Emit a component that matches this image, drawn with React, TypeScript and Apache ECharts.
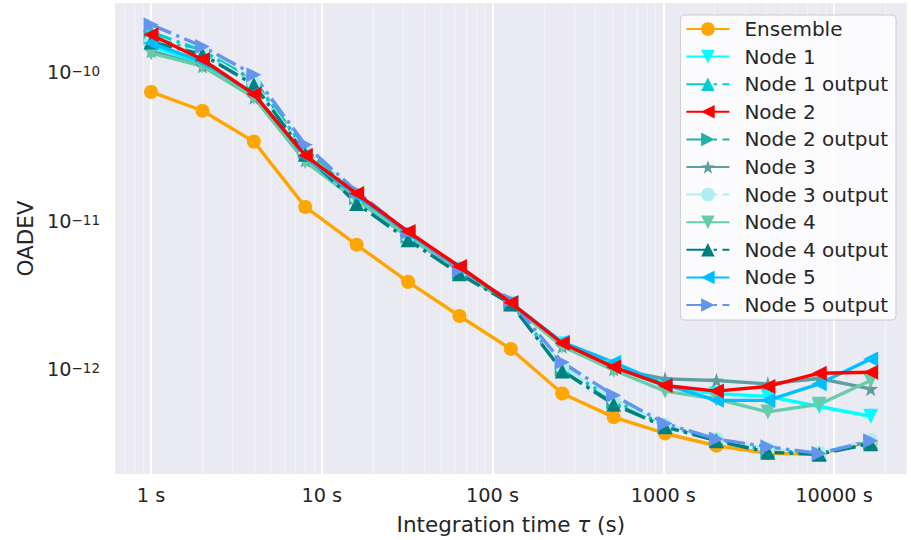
import React, { useEffect, useRef } from "react";
import * as echarts from "echarts";

// Integration times (s)
const tau = [1, 2, 4, 8, 16, 32, 64, 128, 256, 512, 1024, 2048, 4096, 8192, 16384];

// OADEV values
const ensemble = [7.5e-11, 5.6e-11, 3.47e-11, 1.26e-11, 7.0e-12, 3.94e-12, 2.32e-12, 1.39e-12, 6.98e-13, 4.83e-13, 3.75e-13, 3.1e-13, 2.76e-13, 2.73e-13, 3.3e-13];
const node1 = [1.54e-10, 1.15e-10, 7.0e-11, 2.65e-11, 1.45e-11, 8.2e-12, 4.8e-12, 2.8e-12, 1.5e-12, 1.05e-12, 7.8e-13, 6.94e-13, 6.67e-13, 5.7e-13, 4.9e-13];
const node1Output = [1.9e-10, 1.42e-10, 9.0e-11, 3.1e-11, 1.5e-11, 8.2e-12, 4.7e-12, 2.85e-12, 1.05e-12, 6.3e-13, 4.25e-13, 3.4e-13, 2.9e-13, 2.75e-13, 3.3e-13];
const node2 = [1.82e-10, 1.24e-10, 7.24e-11, 2.8e-11, 1.55e-11, 8.6e-12, 5.0e-12, 2.85e-12, 1.52e-12, 1.05e-12, 7.9e-13, 7.24e-13, 7.78e-13, 9.55e-13, 9.7e-13];
const node2Output = [1.75e-10, 1.38e-10, 8.8e-11, 3.0e-11, 1.45e-11, 8.0e-12, 4.6e-12, 2.82e-12, 1.02e-12, 6.1e-13, 4.2e-13, 3.38e-13, 2.85e-13, 2.74e-13, 3.25e-13];
const node3 = [1.42e-10, 1.12e-10, 6.9e-11, 2.6e-11, 1.42e-11, 8.0e-12, 4.7e-12, 2.8e-12, 1.45e-12, 1.02e-12, 8.75e-13, 8.53e-13, 8.1e-13, 8.8e-13, 7.5e-13];
const node3Output = [1.65e-10, 1.38e-10, 8.6e-11, 2.95e-11, 1.45e-11, 8.0e-12, 4.6e-12, 2.85e-12, 1.05e-12, 6.4e-13, 4.3e-13, 3.45e-13, 2.95e-13, 2.78e-13, 3.4e-13];
const node4 = [1.37e-10, 1.12e-10, 6.9e-11, 2.54e-11, 1.4e-11, 7.9e-12, 4.65e-12, 2.78e-12, 1.45e-12, 1.0e-12, 7.24e-13, 6.4e-13, 5.24e-13, 5.9e-13, 8.53e-13];
const node4Output = [1.63e-10, 1.34e-10, 8.4e-11, 2.85e-11, 1.33e-11, 7.56e-12, 4.46e-12, 2.8e-12, 9.9e-13, 5.9e-13, 4.16e-13, 3.35e-13, 2.8e-13, 2.72e-13, 3.2e-13];
const node5 = [1.6e-10, 1.2e-10, 7.3e-11, 2.75e-11, 1.5e-11, 8.4e-12, 4.9e-12, 2.85e-12, 1.55e-12, 1.13e-12, 8.0e-13, 6.27e-13, 6.27e-13, 8.1e-13, 1.19e-12];
const node5Output = [2.13e-10, 1.52e-10, 9.8e-11, 3.3e-11, 1.6e-11, 8.5e-12, 4.75e-12, 2.95e-12, 1.13e-12, 6.78e-13, 4.38e-13, 3.44e-13, 3.05e-13, 2.75e-13, 3.35e-13];

// Tick labels
const xTickValues = [1, 10, 100, 1000, 10000];
const xTickLabels = ["1 s", "10 s", "100 s", "1000 s", "10000 s"];
const yTickValues = [1e-12, 1e-11, 1e-10];
const yTickExponents = ["12", "11", "10"];

const FONT = "DejaVu Sans";
const TEXT = "#262626";
const LINE_W = 3.4;
const DASHDOT = [6.4 * LINE_W, 1.6 * LINE_W, 1 * LINE_W, 1.6 * LINE_W];
const STAR = "path://M0,-10 L2.35,-3.24 L9.51,-3.09 L3.8,1.24 L5.88,8.09 L0,4 L-5.88,8.09 L-3.8,1.24 L-9.51,-3.09 L-2.35,-3.24 Z";

type SDef = { name: string; data: number[]; color: string; symbol: string; rotate: number; dashed: boolean; size: number; z: number };

const seriesDefs: SDef[] = [
  { name: "Ensemble", data: ensemble, color: "#FFA500", symbol: "circle", rotate: 0, dashed: false, size: 14, z: 2 },
  { name: "Node 1", data: node1, color: "#00FFFF", symbol: "triangle", rotate: 180, dashed: false, size: 15, z: 2 },
  { name: "Node 1 output", data: node1Output, color: "#00CED1", symbol: "triangle", rotate: 0, dashed: true, size: 15, z: 2 },
  { name: "Node 2", data: node2, color: "#FF0000", symbol: "triangle", rotate: 90, dashed: false, size: 15, z: 3 },
  { name: "Node 2 output", data: node2Output, color: "#20B2AA", symbol: "triangle", rotate: -90, dashed: true, size: 15, z: 2 },
  { name: "Node 3", data: node3, color: "#5F9EA0", symbol: STAR, rotate: 0, dashed: false, size: 15, z: 2 },
  { name: "Node 3 output", data: node3Output, color: "#AFEEEE", symbol: "circle", rotate: 0, dashed: true, size: 14, z: 2 },
  { name: "Node 4", data: node4, color: "#66CDAA", symbol: "triangle", rotate: 180, dashed: false, size: 15, z: 2 },
  { name: "Node 4 output", data: node4Output, color: "#008080", symbol: "triangle", rotate: 0, dashed: true, size: 15, z: 2 },
  { name: "Node 5", data: node5, color: "#00BFFF", symbol: "triangle", rotate: 90, dashed: false, size: 15, z: 2 },
  { name: "Node 5 output", data: node5Output, color: "#6495ED", symbol: "triangle", rotate: -90, dashed: true, size: 15, z: 2 },
];

const X_MIN = 0.615;
const X_MAX = 26600;
const Y_MIN = 2.0e-13;
const Y_MAX = 2.98e-10;

function isPow10(v: number) {
  const l = Math.log10(v);
  return Math.abs(l - Math.round(l)) < 1e-6;
}

export default function App() {
  const ref = useRef<HTMLDivElement>(null);
  useEffect(() => {
    if (!ref.current) return;
    const chart = echarts.init(ref.current, null, { renderer: "svg" });

    // minor grid positions (2..9 x 10^n) inside the axis ranges
    const minorX: any[] = [];
    for (let e = -1; e <= 4; e++) {
      for (let k = 2; k <= 9; k++) {
        const v = k * Math.pow(10, e);
        if (v > X_MIN && v < X_MAX) minorX.push({ xAxis: v });
      }
    }
    const minorY: any[] = [];
    for (let e = -13; e <= -10; e++) {
      for (let k = 2; k <= 9; k++) {
        const v = k * Math.pow(10, e);
        if (v > Y_MIN && v < Y_MAX) minorY.push({ yAxis: v });
      }
    }
    const minorLines = [...minorX, ...minorY].map((d) => ({
      ...d,
      lineStyle: { color: "#F3F3F8", width: 1, type: "solid" },
    }));
    const majorLines = [
      ...xTickValues.map((v) => ({ xAxis: v })),
      ...yTickValues.map((v) => ({ yAxis: v })),
    ].map((d) => ({ ...d, lineStyle: { color: "#FFFFFF", width: 2, type: "solid" } }));

    const series: any[] = [
      {
        type: "line",
        name: "__grid",
        data: [],
        z: 0,
        silent: true,
        markLine: {
          z: 0,
          silent: true,
          animation: false,
          symbol: ["none", "none"],
          label: { show: false },
          emphasis: { disabled: true },
          data: [...minorLines, ...majorLines],
        },
      },
      ...seriesDefs.map((s) => ({
        type: "line",
        name: s.name,
        data: tau.map((t, j) => [t, s.data[j]]),
        symbol: s.symbol,
        symbolSize: s.size,
        symbolRotate: s.rotate,
        showAllSymbol: true,
        z: s.z,
        lineStyle: { color: s.color, width: LINE_W, type: s.dashed ? DASHDOT : "solid" },
        itemStyle: { color: s.color, borderWidth: 0 },
      })),
    ];

    chart.setOption({
      animation: false,
      backgroundColor: "#FFFFFF",
      textStyle: { fontFamily: FONT },
      grid: {
        left: 115,
        right: 4.4,
        top: 3,
        bottom: 63,
        show: true,
        backgroundColor: "#EAEAF2",
        borderWidth: 0,
      },
      legend: {
        data: seriesDefs.map((s) => s.name),
        orient: "vertical",
        right: 15,
        top: 15,
        z: 10,
        itemWidth: 43,
        itemHeight: 17,
        itemGap: 7.6,
        padding: [4, 8, 5, 5],
        backgroundColor: "rgba(255,255,255,0.8)",
        borderColor: "#CCCCCC",
        borderWidth: 1,
        borderRadius: 4,
        selectedMode: false,
        textStyle: {
          fontSize: 20,
          color: TEXT,
          fontFamily: FONT,
          lineHeight: 20,
          padding: [0, 0, 0, 10],
        },
      },
      xAxis: {
        type: "log",
        logBase: 10,
        min: X_MIN,
        max: X_MAX,
        axisLine: { show: false },
        axisTick: { show: false },
        splitLine: { show: false },
        axisLabel: {
          fontSize: 19.3,
          color: TEXT,
          fontFamily: FONT,
          margin: 12,
          formatter: (v: number) => {
            if (!isPow10(v)) return "";
            const idx = xTickValues.findIndex((t) => Math.abs(Math.log10(t) - Math.log10(v)) < 1e-6);
            return idx >= 0 ? xTickLabels[idx] : "";
          },
        },
        name: "Integration time {i|τ} (s)",
        nameLocation: "middle",
        nameGap: 39,
        nameTextStyle: {
          fontSize: 21.5,
          color: TEXT,
          fontFamily: FONT,
          rich: { i: { fontSize: 21.5, color: TEXT, fontFamily: FONT, fontStyle: "italic" } },
        },
      },
      yAxis: {
        type: "log",
        logBase: 10,
        min: Y_MIN,
        max: Y_MAX,
        axisLine: { show: false },
        axisTick: { show: false },
        splitLine: { show: false },
        axisLabel: {
          margin: 15,
          color: TEXT,
          fontFamily: FONT,
          formatter: (v: number) => {
            if (!isPow10(v)) return "";
            const idx = yTickValues.findIndex((t) => Math.abs(Math.log10(t) - Math.log10(v)) < 1e-6);
            return idx >= 0 ? `{a|10}{b|\u2212${yTickExponents[idx]}}` : "";
          },
          rich: {
            a: { fontSize: 19.3, color: TEXT, fontFamily: FONT, lineHeight: 18, verticalAlign: "bottom" },
            b: { fontSize: 13.5, color: TEXT, fontFamily: FONT, lineHeight: 14, verticalAlign: "top" },
          },
          lineHeight: 22,
        },
        name: "OADEV",
        nameLocation: "middle",
        nameGap: 76,
        nameTextStyle: { fontSize: 21.5, color: TEXT, fontFamily: FONT },
      },
      series,
    });
    return () => chart.dispose();
  }, []);
  return <div ref={ref} style={{ position: "fixed", left: 0, top: 0, width: 911, height: 540 }} />;
}
